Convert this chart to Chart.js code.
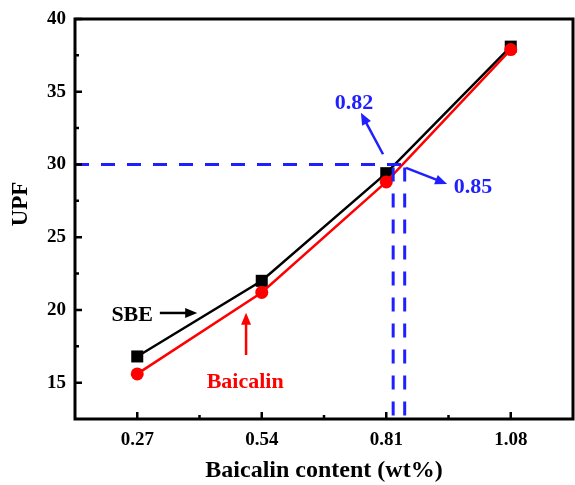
<!DOCTYPE html>
<html>
<head>
<meta charset="utf-8">
<script src="https://cdn.jsdelivr.net/npm/chart.js@4.4.1/dist/chart.umd.min.js"></script>
<style>
  html, body { margin: 0; padding: 0; background: #fff; }
  canvas { display: block; }
</style>
</head>
<body>
<canvas id="upf" width="575" height="485"></canvas>
<script>
// Data
const content = [0.27, 0.54, 0.81, 1.08];
const sbeUPF = [16.8, 22.0, 29.4, 38.1];
const baicalinUPF = [15.6, 21.2, 28.8, 37.9];

// Axis ticks
const xTicks = [0.27, 0.54, 0.81, 1.08];
const xMinor = [0.405, 0.675, 0.945];
const yTicks = [15, 20, 25, 30, 35, 40];
const yMinor = [17.5, 22.5, 27.5, 32.5, 37.5];

// Reference lines for UPF = 30
const targetUPF = 30;
const crossSBE = 0.825;
const crossBaicalin = 0.85;

const BLUE = '#1f1fff';
const SERIF = '"Liberation Serif", "Times New Roman", serif';

// Labels with arrows, in data coordinates
const notes = [
  { text: 'SBE', color: '#000', at: [0.259, 19.65], from: [0.319, 19.79], to: [0.400, 19.79] },
  { text: 'Baicalin', color: '#ff0000', at: [0.504, 15.05], from: [0.506, 16.9], to: [0.506, 19.8] },
  { text: '0.82', color: BLUE, at: [0.740, 34.2], from: [0.803, 30.7], to: [0.755, 33.55] },
  { text: '0.85', color: BLUE, at: [0.998, 28.4], from: [0.853, 29.76], to: [0.942, 28.66] }
];

function arrow(ctx, x1, y1, x2, y2, color) {
  const ang = Math.atan2(y2 - y1, x2 - x1);
  const head = 12, half = 5;
  ctx.strokeStyle = color;
  ctx.fillStyle = color;
  ctx.lineWidth = 2.5;
  ctx.beginPath();
  ctx.moveTo(x1, y1);
  ctx.lineTo(x2 - head * 0.8 * Math.cos(ang), y2 - head * 0.8 * Math.sin(ang));
  ctx.stroke();
  ctx.beginPath();
  ctx.moveTo(x2, y2);
  ctx.lineTo(x2 - head * Math.cos(ang) + half * Math.sin(ang), y2 - head * Math.sin(ang) - half * Math.cos(ang));
  ctx.lineTo(x2 - head * Math.cos(ang) - half * Math.sin(ang), y2 - head * Math.sin(ang) + half * Math.cos(ang));
  ctx.closePath();
  ctx.fill();
}

// Frame, inward ticks, axis titles
const framePlugin = {
  id: 'frame',
  afterDraw(chart) {
    const { ctx, chartArea: a, scales: { x, y } } = chart;
    ctx.save();
    ctx.strokeStyle = '#000';
    ctx.lineWidth = 2.5;
    ctx.beginPath();
    xTicks.forEach(v => { const px = x.getPixelForValue(v); ctx.moveTo(px, a.bottom); ctx.lineTo(px, a.bottom - 7); });
    xMinor.forEach(v => { const px = x.getPixelForValue(v); ctx.moveTo(px, a.bottom); ctx.lineTo(px, a.bottom - 4); });
    yTicks.forEach(v => { const py = y.getPixelForValue(v); ctx.moveTo(a.left, py); ctx.lineTo(a.left + 7, py); });
    yMinor.forEach(v => { const py = y.getPixelForValue(v); ctx.moveTo(a.left, py); ctx.lineTo(a.left + 4, py); });
    ctx.stroke();
    ctx.lineWidth = 3;
    ctx.strokeRect(a.left, a.top, a.right - a.left, a.bottom - a.top);

    ctx.fillStyle = '#000';
    ctx.font = 'bold 24px ' + SERIF;
    ctx.textAlign = 'center';
    ctx.textBaseline = 'middle';
    ctx.fillText('Baicalin content (wt%)', (a.left + a.right) / 2, 471);
    ctx.translate(21, 204);
    ctx.rotate(-Math.PI / 2);
    ctx.font = 'bold 23px ' + SERIF;
    ctx.fillText('UPF', 0, 0);
    ctx.restore();
  }
};

// Blue dashed guides and the arrow labels
const guidePlugin = {
  id: 'guides',
  afterDatasetsDraw(chart) {
    const { ctx, chartArea: a, scales: { x, y } } = chart;
    const py = y.getPixelForValue(targetUPF);
    ctx.save();
    ctx.strokeStyle = BLUE;
    ctx.lineWidth = 3;
    ctx.setLineDash([14, 12]);
    ctx.beginPath();
    ctx.moveTo(a.left, py);
    ctx.lineTo(x.getPixelForValue(crossBaicalin), py);
    [crossSBE, crossBaicalin].forEach(v => {
      const px = x.getPixelForValue(v);
      ctx.moveTo(px, py + 3);
      ctx.lineTo(px, a.bottom);
    });
    ctx.stroke();
    ctx.setLineDash([]);

    notes.forEach(n => {
      arrow(ctx, x.getPixelForValue(n.from[0]), y.getPixelForValue(n.from[1]),
        x.getPixelForValue(n.to[0]), y.getPixelForValue(n.to[1]), n.color);
      ctx.fillStyle = n.color;
      ctx.font = 'bold 22px ' + SERIF;
      ctx.textAlign = 'center';
      ctx.textBaseline = 'middle';
      ctx.fillText(n.text, x.getPixelForValue(n.at[0]), y.getPixelForValue(n.at[1]));
    });
    ctx.restore();
  }
};

new Chart(document.getElementById('upf'), {
  type: 'line',
  data: {
    datasets: [
      {
        label: 'SBE',
        data: content.map((c, i) => ({ x: c, y: sbeUPF[i] })),
        borderColor: '#000',
        backgroundColor: '#000',
        borderWidth: 2.5,
        pointStyle: 'rect',
        pointRadius: 8.5,
        pointBorderWidth: 0,
        order: 2
      },
      {
        label: 'Baicalin',
        data: content.map((c, i) => ({ x: c, y: baicalinUPF[i] })),
        borderColor: '#ff0000',
        backgroundColor: '#ff0000',
        borderWidth: 2.5,
        pointStyle: 'circle',
        pointRadius: 6.5,
        pointBorderWidth: 0,
        order: 1
      }
    ]
  },
  options: {
    responsive: false,
    animation: false,
    devicePixelRatio: 1,
    layout: { autoPadding: false, padding: { top: 19, right: 2, left: 0, bottom: 0 } },
    plugins: { legend: { display: false }, tooltip: { enabled: false } },
    scales: {
      x: {
        type: 'linear',
        min: 0.135,
        max: 1.215,
        grid: { display: false, drawTicks: false },
        border: { display: false },
        afterBuildTicks: s => { s.ticks = xTicks.map(v => ({ value: v })); },
        afterFit: s => { s.height = 66; s.paddingLeft = 0; s.paddingRight = 0; },
        ticks: {
          padding: 10,
          color: '#000',
          font: { family: SERIF, size: 19, weight: 'bold' },
          callback: v => v.toFixed(2)
        }
      },
      y: {
        min: 12.5,
        max: 40,
        grid: { display: false, drawTicks: false },
        border: { display: false },
        afterBuildTicks: s => { s.ticks = yTicks.map(v => ({ value: v })); },
        afterFit: s => { s.width = 75; s.paddingTop = 0; s.paddingBottom = 0; },
        ticks: {
          padding: 9,
          color: '#000',
          font: { family: SERIF, size: 19, weight: 'bold' }
        }
      }
    }
  },
  plugins: [guidePlugin, framePlugin]
});
</script>
</body>
</html>
